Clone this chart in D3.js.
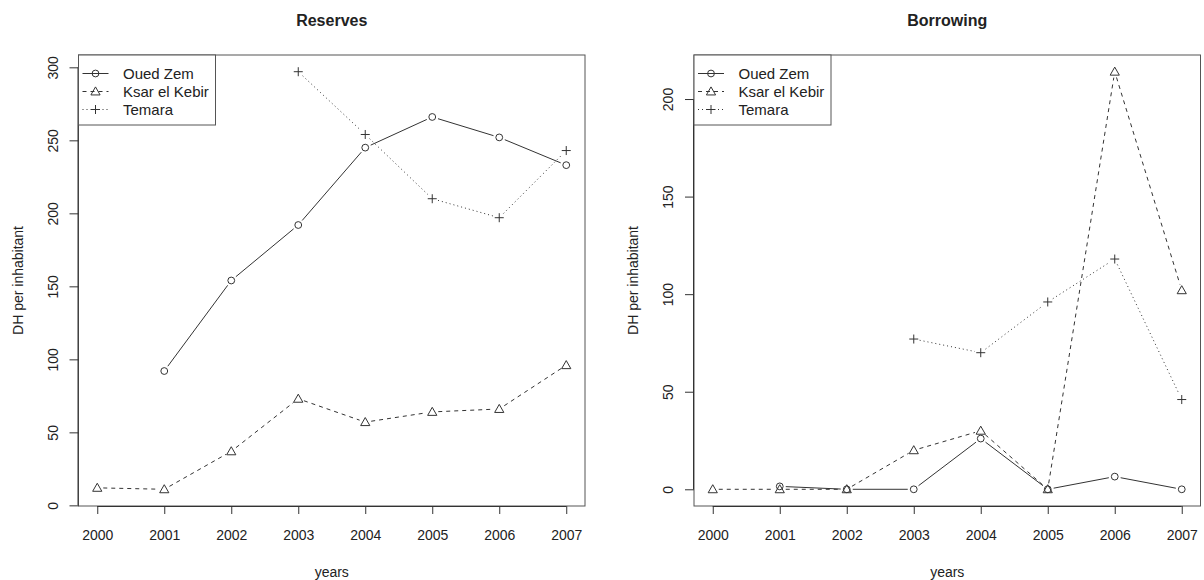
<!DOCTYPE html>
<html>
<head>
<meta charset="utf-8">
<script src="https://cdn.jsdelivr.net/npm/d3@7"></script>
<style>
  html, body { margin: 0; padding: 0; background: #fff; }
  svg { display: block; }
  text { font-family: "Liberation Sans", Arial, Helvetica, sans-serif; fill: #222; }
</style>
</head>
<body>
<svg id="chart" width="1204" height="580"></svg>
<script>
// Years on the x axis
const years = [2000, 2001, 2002, 2003, 2004, 2005, 2006, 2007];
const cities = ["Oued Zem", "Ksar el Kebir", "Temara"];

// Reserves, DH per inhabitant (null = no data)
const reservesOuedZem = [null, 92, 154, 192, 245, 266, 252, 233];
const reservesKsar    = [12, 11, 37, 73, 57, 64, 66, 96];
const reservesTemara  = [null, null, null, 297, 254, 210, 197, 243];

// Borrowing, DH per inhabitant
const borrowOuedZem = [null, 1.5, 0, 0, 26, 0, 6.5, 0];
const borrowKsar    = [0, 0, 0, 20, 30, 0, 214, 102];
const borrowTemara  = [null, null, null, 77, 70, 96, 118, 46];

const reservesTicks = [0, 50, 100, 150, 200, 250, 300];
const borrowTicks   = [0, 50, 100, 150, 200];

const svg = d3.select("#chart");
const ink = "#333";
const styles = [
  { dash: null,  shape: "circle" },
  { dash: "4,4", shape: "triangle" },
  { dash: "1,3", shape: "plus" }
];

function drawPoint(g, shape, x, y) {
  if (shape === "circle") {
    g.append("circle").attr("cx", x).attr("cy", y).attr("r", 3.4)
      .attr("fill", "none").attr("stroke", ink).attr("stroke-width", 1);
  } else if (shape === "triangle") {
    const s = 4.6;
    g.append("path")
      .attr("d", `M${x},${y - s}L${x + s},${y + s * 0.75}L${x - s},${y + s * 0.75}Z`)
      .attr("fill", "none").attr("stroke", ink).attr("stroke-width", 1);
  } else {
    const s = 4.5;
    g.append("path")
      .attr("d", `M${x - s},${y}H${x + s}M${x},${y - s}V${y + s}`)
      .attr("fill", "none").attr("stroke", ink).attr("stroke-width", 1);
  }
}

function drawPanel(opt) {
  const { left, right, top, bottom, title, series, ticks, titleX } = opt;
  const g = svg.append("g");

  // x: years with 4% padding on each side
  const xPad = (years[years.length - 1] - years[0]) * 0.04;
  const x = d3.scaleLinear()
    .domain([years[0] - xPad, years[years.length - 1] + xPad])
    .range([left, right]);

  // y: data range with 4% padding
  const all = series.flat().filter(v => v !== null);
  const lo = d3.min(all), hi = d3.max(all);
  const yPad = (hi - lo) * 0.04;
  const y = d3.scaleLinear().domain([lo - yPad, hi + yPad]).range([bottom, top]);

  // series lines (gapped around points) and markers
  series.forEach((vals, i) => {
    const st = styles[i];
    const pts = years.map((yr, k) => vals[k] === null ? null : [x(yr), y(vals[k])])
      .filter(p => p !== null);
    const gap = 6;
    for (let k = 0; k < pts.length - 1; k++) {
      const [x0, y0] = pts[k], [x1, y1] = pts[k + 1];
      const len = Math.hypot(x1 - x0, y1 - y0);
      if (len <= 2 * gap) continue;
      const ux = (x1 - x0) / len, uy = (y1 - y0) / len;
      g.append("line")
        .attr("x1", x0 + ux * gap).attr("y1", y0 + uy * gap)
        .attr("x2", x1 - ux * gap).attr("y2", y1 - uy * gap)
        .attr("stroke", ink).attr("stroke-width", 1)
        .attr("stroke-dasharray", st.dash);
    }
    pts.forEach(p => drawPoint(g, st.shape, p[0], p[1]));
  });

  // box
  g.append("rect")
    .attr("x", left).attr("y", top)
    .attr("width", right - left).attr("height", bottom - top)
    .attr("fill", "none").attr("stroke", "#555").attr("stroke-width", 1);

  // x axis
  const xAxis = d3.axisBottom(x).tickValues(years).tickFormat(d3.format("d"))
    .tickSize(8).tickPadding(16.5).tickSizeOuter(0);
  const gx = g.append("g").attr("transform", `translate(0,${bottom})`).call(xAxis);
  gx.select(".domain").attr("d", `M${x(years[0])},0.5H${x(years[years.length - 1])}`).attr("stroke", ink);
  gx.selectAll(".tick line").attr("stroke", ink);
  gx.selectAll(".tick text").attr("font-size", 14).attr("fill", "#222")
    .attr("font-family", "Liberation Sans, Arial, sans-serif");

  // y axis with rotated labels
  const yAxis = d3.axisLeft(y).tickValues(ticks).tickFormat(d3.format("d"))
    .tickSize(9).tickPadding(0).tickSizeOuter(0);
  const gy = g.append("g").attr("transform", `translate(${left},0)`).call(yAxis);
  gy.select(".domain").attr("d", `M-0.5,${y(ticks[0])}V${y(ticks[ticks.length - 1])}`).attr("stroke", ink);
  gy.selectAll(".tick line").attr("stroke", ink);
  gy.selectAll(".tick text")
    .attr("font-size", 14).attr("fill", "#222")
    .attr("font-family", "Liberation Sans, Arial, sans-serif")
    .attr("x", null).attr("dy", null)
    .attr("text-anchor", "middle")
    .attr("dominant-baseline", "central")
    .attr("transform", "translate(-26,0) rotate(-90)");

  // titles
  g.append("text").attr("x", (left + right) / 2).attr("y", 26)
    .attr("text-anchor", "middle").attr("font-size", 16).attr("font-weight", "bold")
    .text(title);
  g.append("text").attr("x", (left + right) / 2).attr("y", 577)
    .attr("text-anchor", "middle").attr("font-size", 14).text("years");
  g.append("text").attr("transform", `translate(${titleX},${(top + bottom) / 2}) rotate(-90)`)
    .attr("text-anchor", "middle").attr("dominant-baseline", "central")
    .attr("font-size", 14).text("DH per inhabitant");

  // legend
  const lg = g.append("g").attr("transform", `translate(${left},${top})`);
  lg.append("rect").attr("x", 0).attr("y", 0).attr("width", 137).attr("height", 70)
    .attr("fill", "#fff").attr("stroke", "#555").attr("stroke-width", 1);
  cities.forEach((name, i) => {
    const ry = 18.5 + i * 18;
    const st = styles[i];
    lg.append("line").attr("x1", 4).attr("x2", 30).attr("y1", ry).attr("y2", ry)
      .attr("stroke", ink).attr("stroke-width", 1).attr("stroke-dasharray", st.dash);
    drawPoint(lg, st.shape, 17, ry);
    lg.append("text").attr("x", 44.5).attr("y", ry).attr("dominant-baseline", "central")
      .attr("font-size", 15).text(name);
  });
}

drawPanel({
  left: 78.5, right: 585, top: 55, bottom: 506,
  title: "Reserves", titleX: 18,
  series: [reservesOuedZem, reservesKsar, reservesTemara],
  ticks: reservesTicks
});

drawPanel({
  left: 694, right: 1200.5, top: 55, bottom: 506,
  title: "Borrowing", titleX: 633,
  series: [borrowOuedZem, borrowKsar, borrowTemara],
  ticks: borrowTicks
});
</script>
</body>
</html>
